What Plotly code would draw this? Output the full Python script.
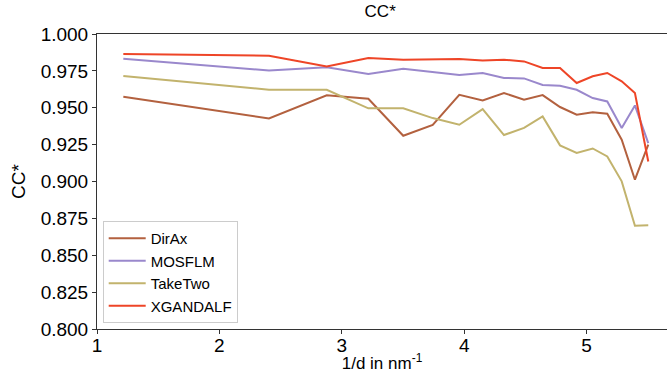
import plotly.graph_objects as go

inv_d = [1.215, 2.405, 2.877, 3.217, 3.502, 3.743, 3.96, 4.151, 4.325, 4.489,
         4.641, 4.783, 4.919, 5.05, 5.169, 5.287, 5.395, 5.504]

dirax = [0.9575, 0.9428, 0.9584, 0.9561, 0.931, 0.9383, 0.9588, 0.955, 0.960, 0.9555,
         0.9586, 0.9505, 0.9453, 0.9469, 0.946, 0.9283, 0.9012, 0.925]
mosflm = [0.9833, 0.9753, 0.9774, 0.9729, 0.9765, 0.974, 0.9722, 0.9735, 0.9702, 0.9699,
          0.9654, 0.9649, 0.9622, 0.9566, 0.9543, 0.9363, 0.9516, 0.926]
taketwo = [0.9715, 0.9622, 0.9622, 0.9496, 0.9496, 0.943, 0.9385, 0.9491, 0.9315, 0.9363,
           0.9441, 0.9245, 0.9193, 0.9224, 0.917, 0.9001, 0.870, 0.8703]
xgandalf = [0.9864, 0.9853, 0.978, 0.9837, 0.9826, 0.9831, 0.9831, 0.9821, 0.9826, 0.9814,
            0.977, 0.977, 0.9668, 0.9713, 0.9736, 0.9679, 0.960, 0.9136]

names = ["DirAx", "MOSFLM", "TakeTwo", "XGANDALF"]
series = [dirax, mosflm, taketwo, xgandalf]
colors = ["#b3613f", "#9a88cc", "#c2b36d", "#ee4527"]

y_ticks = [0.8, 0.825, 0.85, 0.875, 0.9, 0.925, 0.95, 0.975, 1.0]
y_ticklabels = ["0.800", "0.825", "0.850", "0.875", "0.900", "0.925", "0.950", "0.975", "1.000"]
x_ticks = [1, 2, 3, 4, 5]

fig = go.Figure()
for n, s, c in zip(names, series, colors):
    fig.add_trace(go.Scatter(x=inv_d, y=s, mode="lines", name=n,
                             line=dict(color=c, width=2)))

font = "Liberation Sans, Arial, sans-serif"
fig.update_layout(
    width=667, height=373,
    margin=dict(l=97, r=0, t=34, b=44),
    paper_bgcolor="white", plot_bgcolor="white",
    font=dict(family=font, color="black"),
    title=dict(text="CC*", x=0.57, xanchor="center", y=0.985, yanchor="top",
               font=dict(size=17, family=font)),
    legend=dict(x=0.01, y=0.02, xanchor="left", yanchor="bottom",
                bordercolor="#cccccc", borderwidth=1, bgcolor="rgba(255,255,255,0.8)",
                font=dict(size=15, family=font), tracegroupgap=0, itemwidth=37),
    showlegend=True,
)
fig.update_xaxes(range=[1, 5.657], tickvals=x_ticks, ticks="outside", ticklen=4,
                 tickcolor="#333", showline=True, linecolor="#333", linewidth=1,
                 mirror=True, showgrid=False, zeroline=False, ticklabelstandoff=-5,
                 tickfont=dict(size=19, family=font),
                 title=dict(text="1/d in nm<sup>-1</sup>", font=dict(size=17, family=font), standoff=0))
fig.update_yaxes(range=[0.8, 1.0], tickvals=y_ticks, ticktext=y_ticklabels, ticks="outside",
                 ticklen=4, tickcolor="#333", showline=True, linecolor="#333", linewidth=1,
                 showgrid=False, zeroline=False,
                 tickfont=dict(size=19, family=font),
                 title=dict(text="CC*", font=dict(size=19, family=font), standoff=10))

fig.write_html("out.html")
